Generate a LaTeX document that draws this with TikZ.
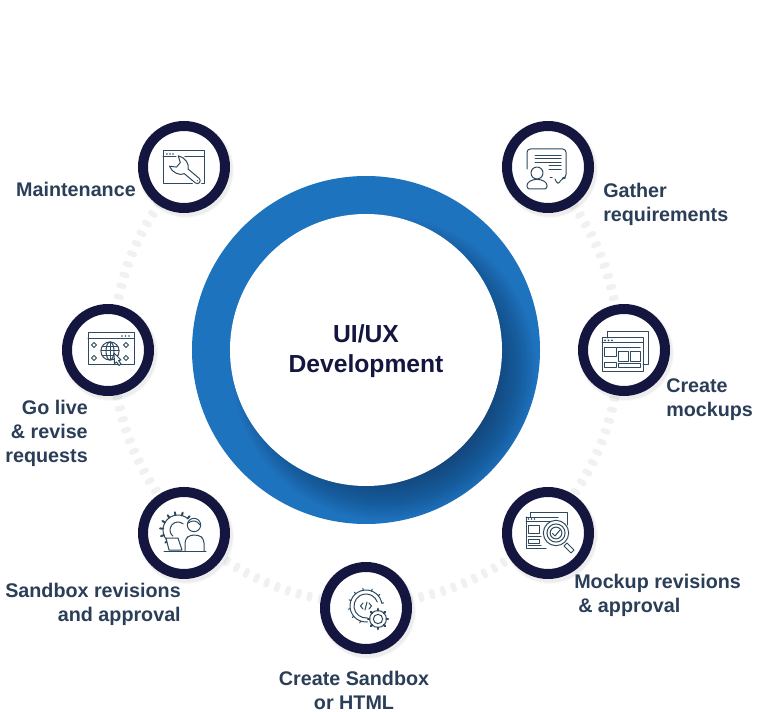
\documentclass[tikz,border=0pt]{standalone}
\usepackage{fontspec}
\setmainfont{Liberation Sans}
\definecolor{navy}{HTML}{14163F}
\definecolor{blueband}{HTML}{1E73BE}
\definecolor{bandshade}{HTML}{14264A}
\definecolor{labelcol}{HTML}{2B3E58}
\definecolor{iconcol}{HTML}{2F4A5E}
\definecolor{dotcol}{HTML}{F0F1F1}
\tikzset{
  x=0.75pt,y=-0.75pt,
  badge/.style={circle,draw=navy,fill=white,line width=7.5pt,minimum size=61.5pt,inner sep=0pt},
  steplabel/.style={font=\fontsize{14.8pt}{18pt}\selectfont\bfseries,text=labelcol,inner sep=0pt},
  icon/.style={draw=iconcol,line width=0.75pt,line cap=round,line join=round},
  iconfill/.style={icon,fill=white},
}
\begin{document}
\begin{tikzpicture}
\useasboundingbox (0,0) rectangle (760,712);
\fill[white] (0,0) rectangle (760,712);
\coordinate (c) at (366,350);
% dotted track
\foreach \a in {-45,-42.45,...,225.1}
  \draw[dotcol,line width=4pt,line cap=round] ([shift={(\a:250.5)}]c) -- ([shift={(\a:255.5)}]c);
% central band
\fill[blueband] (c) circle[radius=130.5pt];
\begin{scope}
  \clip (c) circle[radius=130.5pt];
  \foreach \i in {0,...,24}
    \fill[bandshade,opacity=0.035] (384,368) circle[radius={(152-2.2*\i)*0.75pt}];
\end{scope}
\node[circle,fill=white,minimum size=204pt,inner sep=0pt] (hub) at (c) {};
\node[font=\fontsize{18.5pt}{22pt}\selectfont\bfseries,text=navy,align=center,inner sep=0pt] (title) at (366,351) {UI/UX\\Development};
% soft badge shadows
\foreach \p in {(184,167),(548,167),(624,350),(548,533),(366,608),(184,533),(108,350)} {
  \foreach \r in {48,47,46.5}
    \fill[black,opacity=0.025] \p ++(2,3) circle[radius=\r*0.75pt];
}
\node[badge] (n1) at (184,167) {};
\node[badge] (n2) at (548,167) {};
\node[badge] (n3) at (624,350) {};
\node[badge] (n4) at (548,533) {};
\node[badge] (n5) at (366,608) {};
\node[badge] (n6) at (184,533) {};
\node[badge] (n7) at (108,350) {};
% labels
\node[steplabel,anchor=base east] (l1) at (136,197) {Maintenance};
\node[steplabel,anchor=north west,align=left] (l2) at (603,183) {Gather\\requirements};
\node[steplabel,anchor=north west,align=left] (l3) at (666,378) {Create\\mockups};
\node[steplabel,anchor=north west,align=left] (l4) at (574,574) {Mockup revisions\\\hspace*{3pt}\& approval};
\node[steplabel,anchor=north,align=center] (l5) at (354,671) {Create Sandbox\\or HTML};
\node[steplabel,anchor=north east,align=right] (l6) at (181,583) {Sandbox revisions\\and approval};
\node[steplabel,anchor=north east,align=right] (l7) at (88,400) {Go live\\\& revise\\requests};
% icon 1: window and wrench
\begin{scope}[shift={(n1)}]
  \draw[icon] (-21,-16) rectangle (20,17);
  \draw[icon] (-21,-10) -- (20,-10);
  \foreach \x in {-17,-14,-11} \fill[iconcol] (\x,-13) circle[radius=0.6pt];
  \begin{scope}[shift={(-3,0)},rotate=-40,scale=0.85]
    \draw[fill=white,draw=white,line width=3pt,line join=round] (-11,-8) -- (-4,-3.5) -- (-4,3.5) -- (-11,8) .. controls (-4,12) and (6,9) .. (8,3.5) -- (25,3.5) arc[start angle=90,end angle=-90,radius=3.5] -- (8,-3.5) .. controls (6,-9) and (-4,-12) .. cycle;
    \draw[iconfill] (-11,-8) -- (-4,-3.5) -- (-4,3.5) -- (-11,8) .. controls (-4,12) and (6,9) .. (8,3.5) -- (25,3.5) arc[start angle=90,end angle=-90,radius=3.5] -- (8,-3.5) .. controls (6,-9) and (-4,-12) .. cycle;
    \fill[iconcol] (25,0) circle[radius=0.6pt];
  \end{scope}
\end{scope}
% icon 2: speech bubble and person
\begin{scope}[shift={(n2)}]
  \draw[icon,rounded corners=2.5pt] (-21,2) -- (-21,-18) -- (18,-18) -- (18,11) -- (14,11) -- (10,18) -- (7,12);
  \draw[icon] (2,11) -- (4,11);
  \foreach \y in {-11,-8,-4.5} \draw[icon] (-13,\y) -- (13,\y);
  \foreach \y in {-1,3} \draw[icon] (1,\y) -- (13,\y);
  \draw[iconfill] (-11,6) circle[radius=4.5pt];
  \draw[iconfill,rounded corners=2pt] (-21,22) -- (-21,16) -- (-15,12.5) -- (-7,12.5) -- (-1,16) -- (-1,22) -- cycle;
\end{scope}
% icon 3: two windows
\begin{scope}[shift={(n3)}]
  \draw[icon] (-17,-12) -- (-17,-18) -- (24,-18) -- (24,15) -- (19,15);
  \draw[icon] (-22,-12) rectangle (19,22);
  \draw[icon] (-22,-7) -- (19,-7);
  \foreach \x in {-19,-15.5,-12} \fill[iconcol] (\x,-9.6) circle[radius=0.7pt];
  \draw[icon] (-7,-2) -- (16,-2);
  \draw[icon] (-20,-2) rectangle (-8,7);
  \draw[icon] (-6,2) rectangle (4,12);
  \draw[icon] (6,2) rectangle (16,12);
  \draw[icon] (-20,13) rectangle (-8,18);
  \draw[icon] (-6,14) rectangle (16,18);
\end{scope}
% icon 4: windows and magnifier
\begin{scope}[shift={(n4)}]
  \draw[icon] (-18,-16) -- (-18,-21) -- (19,-21) -- (19,-8);
  \draw[icon] (-22,-16) -- (10,-16);
  \draw[icon] (-22,-16) -- (-22,15) -- (-2,15);
  \draw[icon] (-22,-12) -- (6,-12);
  \foreach \x in {-19.5,-16.5,-13.5} \fill[iconcol] (\x,-14) circle[radius=0.6pt];
  \draw[icon] (-20,-8) rectangle (-9,0);
  \draw[icon] (-20,6) rectangle (-9,10);
  \draw[icon] (-20,3.5) -- (-7,3.5);
  \draw[icon] (-20,12.5) -- (-7,12.5);
  \draw[iconfill] (8,0) circle[radius=9.5pt];
  \draw[icon] (8,0) circle[radius=6.8pt];
  \draw[icon] (8,0) circle[radius=4.4pt];
  \draw[icon] (4.5,0.5) -- (7,3) -- (12,-3);
  \draw[iconfill] (19,10) -- (26,17) -- (23,20) -- (16,13) -- cycle;
\end{scope}
% icon 5: code gear
\begin{scope}[shift={(n5)}]
  \draw[icon] ([shift={(70:16)}]0,-2) arc[start angle=70,end angle=350,radius=16];
  \draw[icon] ([shift={(60:12)}]0,-2) arc[start angle=60,end angle=340,radius=12];
  \foreach \a in {80,110,...,350}
    \draw[icon] ([shift={(\a:16)}]0,-2) -- ([shift={(\a:18)}]0,-2);
  \draw[icon] (-3,-5) -- (-5.5,-2) -- (-3,1);
  \draw[icon] (3,-5) -- (5.5,-2) -- (3,1);
  \draw[icon] (1,-6) -- (-1,2);
  \begin{scope}[shift={(12,11)}]
    \fill[white] (0,0) circle[radius=8pt];
    \draw[iconfill] (0,0) circle[radius=6.3pt];
    \foreach \a in {0,45,...,315}
      \draw[icon,line width=1.6pt] (\a:8.4) -- (\a:10.2);
    \draw[icon] (0,0) circle[radius=3.5pt];
  \end{scope}
\end{scope}
% icon 6: gear, person and laptop
\begin{scope}[shift={(n6)}]
  \draw[icon] ([shift={(-50:15)}]-6,-3) arc[start angle=-50,end angle=-260,radius=15];
  \draw[icon] ([shift={(-50:8)}]-6,-3) arc[start angle=-50,end angle=-230,radius=8];
  \foreach \a in {-50,-75,...,-260}
    \draw[icon,line width=1.5pt] ([shift={(\a:15)}]-6,-3) -- ([shift={(\a:18)}]-6,-3);
  \draw[iconfill] (10,-8) circle[radius=5pt];
  \draw[icon] (4,-10) .. controls (8,-13) and (13,-13) .. (16,-8);
  \draw[iconfill,rounded corners=3pt] (1,18) -- (1,6) -- (6,2) -- (15,2) -- (20,6) -- (20,18);
  \draw[iconfill] (-18,5) -- (-6,5) -- (-2,17) -- (-15,17) -- cycle;
  \draw[icon] (-20,18) -- (22,18);
\end{scope}
% icon 7: window, globe and pointer
\begin{scope}[shift={(n7)}]
  \draw[icon] (-20,-17) rectangle (26,15);
  \draw[icon] (-20,-11.5) -- (26,-11.5);
  \foreach \x in {14,17.5,21} \fill[iconcol] (\x,-14) circle[radius=0.7pt];
  \draw[icon] (2,1) circle[radius=6.8pt];
  \draw[icon] (2,1) ellipse[x radius=4,y radius=9];
  \draw[icon] (2,-8) -- (2,10);
  \draw[icon] (-7,1) -- (11,1);
  \draw[icon] (-6,-3.5) -- (10,-3.5);
  \draw[icon] (-6,5.5) -- (10,5.5);
  \draw[iconfill] (6,3) -- (13,10) -- (10.5,10.5) -- (13,14) -- (11,15.5) -- (8.5,12) -- (6.5,13.5) -- cycle;
  \foreach \sx/\sy in {-14/-5,18/-5,-14/8,18/8} {
    \draw[icon,line width=0.6pt] (\sx-2.5,\sy) -- (\sx,\sy-2.5) -- (\sx+2.5,\sy) -- (\sx,\sy+2.5) -- cycle;
  }
\end{scope}
\end{tikzpicture}
\end{document}
